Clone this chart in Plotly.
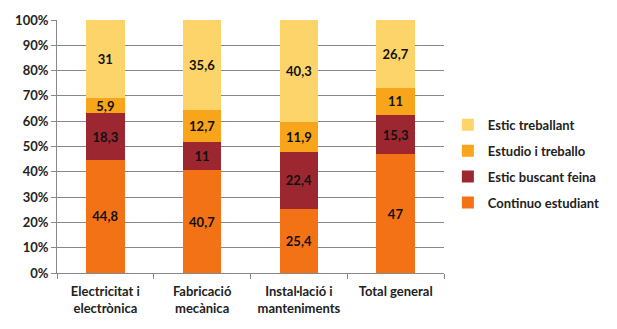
import plotly.graph_objects as go

categories = ["Electricitat i<br>electrònica", "Fabricació<br>mecànica", "Instal·lació i<br>manteniments", "Total general"]
series_names = ["Continuo estudiant", "Estic buscant feina", "Estudio i treballo", "Estic treballant"]
continuo = [44.8, 40.7, 25.4, 47]
buscant = [18.3, 11, 22.4, 15.3]
estudio = [5.9, 12.7, 11.9, 11]
treballant = [31, 35.6, 40.3, 26.7]
colors = ["#F47216", "#9C2731", "#F9A51B", "#FCD46A"]
y_ticks = [0, 10, 20, 30, 40, 50, 60, 70, 80, 90, 100]

FONT = "Lato"
FS = 13
fig = go.Figure()
for i, (name, vals) in enumerate(zip(series_names, [continuo, buscant, estudio, treballant])):
    fig.add_trace(go.Bar(
        x=categories, y=vals, name=name,
        marker=dict(color=colors[i], line=dict(width=0)),
        text=[("%g" % v).replace(".", ",") for v in vals],
        textposition="inside", insidetextanchor="middle", textangle=0,
        textfont=dict(family=FONT, size=FS, color="#111111", weight="bold"),
        legendgroup="g%d" % i, legendrank=10 - i,
    ))

fig.update_layout(
    barmode="stack", bargap=0.6,
    width=617, height=329,
    margin=dict(l=57, r=164, t=17, b=56),
    plot_bgcolor="white", paper_bgcolor="white",
    font=dict(family=FONT, size=FS, color="#222222", weight="bold"),
    showlegend=True,
    legend=dict(x=1.01, xanchor="left", y=0.645, yanchor="top",
                traceorder="grouped", tracegroupgap=6,
                font=dict(family=FONT, size=FS, color="#222222", weight="bold")),
    uniformtext=dict(minsize=FS, mode="show"),
)
fig.update_xaxes(showline=True, linecolor="#888888", linewidth=1,
                 ticks="outside", tickson="boundaries", ticklen=5, tickcolor="#888888",
                 ticklabelstandoff=6,
                 tickfont=dict(family=FONT, size=FS, color="#222222", weight="bold"))
fig.update_yaxes(range=[0, 100], tickvals=y_ticks, ticktext=["%d%%" % t for t in y_ticks],
                 showgrid=True, gridcolor="#888888", gridwidth=1,
                 showline=True, linecolor="#888888", linewidth=1,
                 ticks="outside", ticklen=5, tickcolor="#888888",
                 tickfont=dict(family=FONT, size=FS, color="#222222", weight="bold"), zeroline=False)

fig.write_html("out.html")
